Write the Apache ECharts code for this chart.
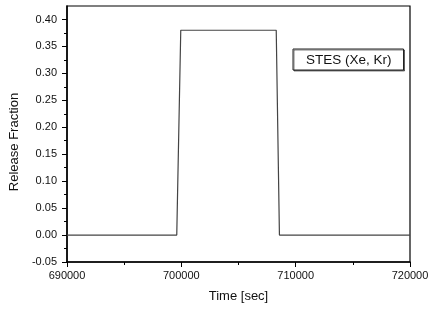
<!DOCTYPE html>
<html><head><meta charset="utf-8">
<script src="https://cdn.jsdelivr.net/npm/echarts@6/dist/echarts.min.js"></script>
<style>html,body{margin:0;padding:0;background:#fff}#c{width:432px;height:309px}</style>
</head><body><div id="c"></div>
<script>
var seriesName = 'STES (Xe, Kr)';
var timeValues = [690000, 699600, 699950, 708300, 708580, 720000];
var releaseValues = [0, 0, 0.38, 0.38, 0, 0];
var yMajorTicks = [-0.05, 0, 0.05, 0.10, 0.15, 0.20, 0.25, 0.30, 0.35, 0.40];
var yMinorTicks = [-0.025, 0.025, 0.075, 0.125, 0.175, 0.225, 0.275, 0.325, 0.375];
var xTickLabels = [690000, 700000, 710000, 720000];

var data = timeValues.map(function (t, i) { return [t, releaseValues[i]]; });
var font = 'Liberation Sans, Arial, sans-serif';
var chart = echarts.init(document.getElementById('c'), null, {renderer: 'canvas'});
chart.setOption({
  animation: false,
  backgroundColor: '#fff',
  grid: {left: 65, right: 22, top: 6, bottom: 47, show: true, borderColor: '#000', borderWidth: 1.2, backgroundColor: 'transparent'},
  legend: {
    data: [{name: seriesName, icon: 'none'}],
    left: 293, top: 49, itemWidth: 0, itemHeight: 0, itemGap: 0,
    padding: [4, 12, 3, 8],
    borderColor: '#222', borderWidth: 1,
    shadowColor: 'rgba(0,0,0,0.5)', shadowOffsetX: 1, shadowOffsetY: 1, shadowBlur: 0,
    backgroundColor: '#fff',
    selectedMode: false,
    textStyle: {fontFamily: font, fontSize: 13.5, color: '#111'}
  },
  xAxis: {
    type: 'value', min: xTickLabels[0], max: xTickLabels[xTickLabels.length - 1], interval: 10000,
    name: 'Time [sec]', nameLocation: 'middle', nameGap: 28,
    nameTextStyle: {fontFamily: font, fontSize: 13, color: '#111'},
    axisLine: {show: true, onZero: false, lineStyle: {color: '#000', width: 1.5}},
    axisTick: {show: true, inside: false, length: 5, lineStyle: {color: '#000', width: 1}},
    minorTick: {show: true, splitNumber: 2, length: 3, lineStyle: {color: '#000', width: 1}},
    splitLine: {show: false},
    axisLabel: {fontFamily: font, fontSize: 11, color: '#111', margin: 8,
      formatter: function (v) { return String(v); }}
  },
  yAxis: [{
    type: 'value', min: -0.05, max: 0.425,
    name: 'Release Fraction', nameLocation: 'middle', nameGap: 46,
    nameTextStyle: {fontFamily: font, fontSize: 13, color: '#111', padding: [0, 16, 0, 0]},
    axisLine: {show: true, onZero: false, lineStyle: {color: '#000', width: 1.5}},
    axisTick: {show: true, inside: false, length: 5, customValues: yMajorTicks, lineStyle: {color: '#000', width: 1}},
    splitLine: {show: false},
    axisLabel: {fontFamily: font, fontSize: 11, color: '#111', margin: 10, customValues: yMajorTicks,
      formatter: function (v) { return v.toFixed(2); }}
  }, {
    type: 'value', min: -0.05, max: 0.425, position: 'left',
    axisLine: {show: false},
    axisTick: {show: true, inside: false, length: 3, customValues: yMinorTicks, lineStyle: {color: '#000', width: 1}},
    axisLabel: {show: false},
    splitLine: {show: false}
  }],
  series: [{
    name: seriesName, type: 'line', data: data, yAxisIndex: 0,
    showSymbol: false, symbol: 'none',
    lineStyle: {color: '#444', width: 1.2},
    itemStyle: {color: '#444'}
  }]
});
</script></body></html>
